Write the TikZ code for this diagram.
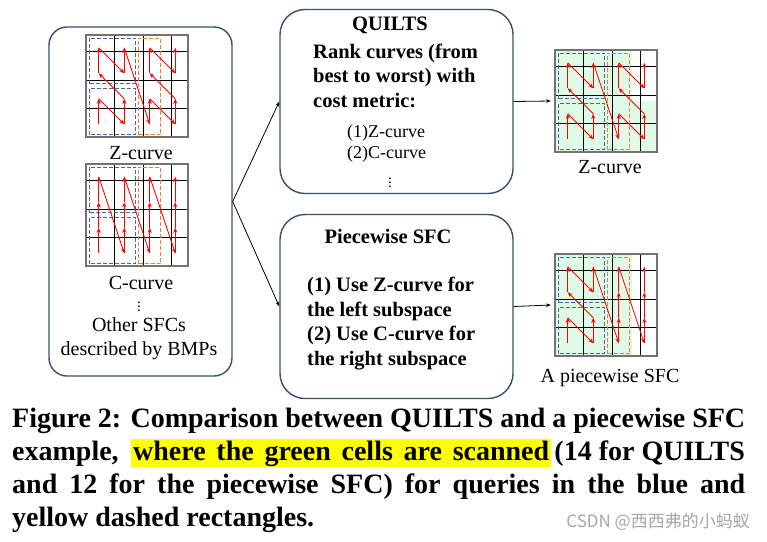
\documentclass[tikz,border=0pt]{standalone}
\usepackage{fontspec}
\setmainfont{Liberation Serif}
\newfontfamily\cjkfont{Noto Sans CJK SC}
\usetikzlibrary{arrows.meta}

\definecolor{boxedge}{RGB}{52,82,112}
\definecolor{qblue}{RGB}{68,104,170}
\definecolor{qorange}{RGB}{237,125,49}
\definecolor{scangreen}{RGB}{224,250,232}
\definecolor{hlyellow}{RGB}{255,255,0}

\newcommand{\zpts}{0/1,1/0,1/1,0/2,0/3,1/2,1/3,2/0,2/1,3/0,3/1,2/2,2/3,3/2,3/3}
\newcommand{\cpts}{0/1,0/2,0/3,1/0,1/1,1/2,1/3,2/0,2/1,2/2,2/3,3/0,3/1,3/2,3/3}
\newcommand{\ppts}{0/1,1/0,1/1,0/2,0/3,1/2,1/3,2/0,2/1,2/2,2/3,3/0,3/1,3/2,3/3}

% 4x4 grid with query rectangles and the curve through the cell centres
\newcommand{\sfcgrid}[3]{%
  \begin{scope}[shift={(#1.south west)}, x=25.5pt, y=25.5pt]
    #3
    \draw[cellline] (0,0) grid (4,4);
    \draw[cellborder] (0,0) rectangle (4,4);
    \draw[qbluebox] (0.12,2.08) rectangle (1.95,3.88);
    \draw[qbluebox] (0.12,0.08) rectangle (1.95,1.9);
    \draw[qorangebox] (2.05,0.08) rectangle (2.93,3.88);
    \foreach \cx/\cy [remember=\cx as \px (initially 0), remember=\cy as \py (initially 0)] in #2
      \draw[sfcarrow] (\px+0.5,\py+0.5) -- (\cx+0.5,\cy+0.5);
  \end{scope}}

\begin{document}
\begin{tikzpicture}[x=1pt, y=-1pt,
    roundbox/.style={draw=boxedge, line width=1.4pt, inner sep=0pt},
    gridarea/.style={minimum size=102pt, inner sep=0pt, outer sep=0pt},
    cellline/.style={black, line width=0.8pt},
    cellborder/.style={black!55, line width=1.2pt},
    qbluebox/.style={qblue, line width=1pt, dash pattern=on 4pt off 2pt},
    qorangebox/.style={qorange, line width=1pt, dash pattern=on 4pt off 2pt},
    sfcarrow/.style={red, line width=0.8pt, -{Stealth[length=5pt, width=4pt]}},
    flow/.style={black, line width=0.8pt, -{Stealth[length=5pt, width=3.5pt]}},
    scanned/.style={fill=scangreen},
    label/.style={inner sep=0pt, font=\fontsize{20}{24}\selectfont},
    boxtext/.style={inner sep=0pt, font=\fontsize{20.5}{24.5}\selectfont\bfseries},
    listtext/.style={inner sep=0pt, font=\fontsize{18}{20.5}\selectfont},
    dots/.style={inner sep=0pt, font=\fontsize{15}{15}\selectfont},
    caption/.style={inner sep=0pt, anchor=base west, font=\fontsize{28}{33}\selectfont\bfseries}]

  \path[fill=white, use as bounding box] (0,0) rectangle (767,541);

  % boxes
  \node[roundbox, rounded corners=18pt, minimum width=183pt, minimum height=349pt] (sfcs) at (140.5,201.5) {};
  \node[roundbox, rounded corners=25pt, minimum width=233pt, minimum height=184pt] (quilts) at (396.5,101.5) {};
  \node[roundbox, rounded corners=25pt, minimum width=233pt, minimum height=184pt] (piece) at (396.5,306.5) {};

  % grids
  \node[gridarea] (zleft) at (137,86) {};
  \node[gridarea] (cleft) at (137,215) {};
  \node[gridarea] (zright) at (606,101) {};
  \node[gridarea] (pright) at (606,305) {};

  \sfcgrid{zleft}{\zpts}{}
  \sfcgrid{cleft}{\cpts}{}
  \sfcgrid{zright}{\zpts}{\fill[scanned] (0,0) rectangle (3,4) (3,0) rectangle (4,2);}
  \sfcgrid{pright}{\ppts}{\fill[scanned] (0,0) rectangle (3,4);}

  % left box labels
  \node[label, anchor=base] (zname) at (141,159) {Z-curve};
  \node[label, anchor=base] (cname) at (141,289) {C-curve};
  \node[dots] (moredots) at (139,304) {$\vdots$};
  \node[label, anchor=base, align=center] (others) at (139,355) {Other SFCs\\described by BMPs};

  % QUILTS box
  \node[boxtext, anchor=base] (qtitle) at (390,30) {QUILTS};
  \node[boxtext, anchor=base west, align=left] (qrank) at (313,107) {Rank curves (from\\best to worst) with\\cost metric:};
  \node[listtext, anchor=base west, align=left] (qlist) at (347,158) {(1)Z-curve\\(2)C-curve};
  \node[dots] (qdots) at (390,180) {$\vdots$};

  % piecewise box
  \node[boxtext, anchor=base] (ptitle) at (388,243) {Piecewise SFC};
  \node[boxtext, anchor=base west, align=left] (psteps) at (307,365) {(1) Use Z-curve for\\the left subspace\\(2) Use C-curve for\\the right subspace};

  % right labels
  \node[label, anchor=base] (zres) at (610,173) {Z-curve};
  \node[label, anchor=base] (pres) at (610,382) {A piecewise SFC};

  % connectors
  \draw[flow] (sfcs.east) -- (quilts.west);
  \draw[flow] (sfcs.east) -- (piece.west);
  \draw[flow] (quilts.east) -- ([xshift=-4pt]zright.west);
  \draw[flow] (piece.east) -- ([xshift=-4pt]pright.west);

  % caption
  \node[caption] (cap1) at (12,427) {\makebox[733pt][s]{Figure 2: Comparison between QUILTS and a piecewise SFC}};
  \node[caption] (cap2) at (12,460) {example,};
  \node[caption, fill=hlyellow, inner xsep=2pt, inner ysep=0pt, text depth=6.5pt, text height=21pt] (hilite) at (131,460) {\makebox[416pt][s]{where the green cells are scanned}};
  \node[caption, anchor=base east] (cap2b) at (745,460) {(14 for QUILTS};
  \node[caption] (cap3) at (12,493) {\makebox[733pt][s]{and 12 for the piecewise SFC) for queries in the blue and}};
  \node[caption] (cap4) at (12,526) {yellow dashed rectangles.};
  \node[inner sep=0pt, anchor=base east, text=black!35, font=\cjkfont\fontsize{17}{17}\selectfont] (mark) at (750,527) {CSDN @西西弗的小蚂蚁};
\end{tikzpicture}
\end{document}
